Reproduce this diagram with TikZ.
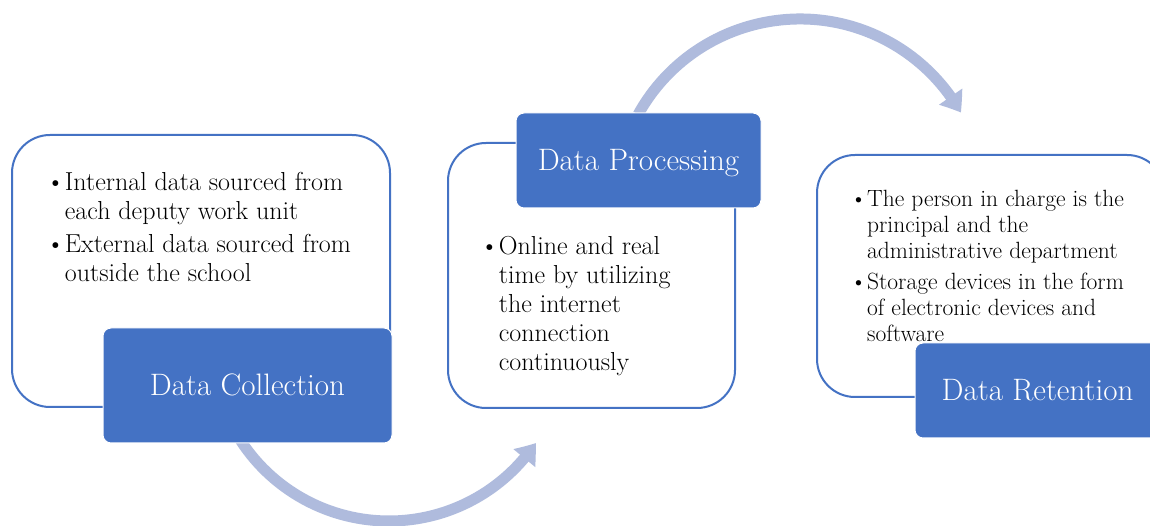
\documentclass[tikz,border=0pt]{standalone}
\usetikzlibrary{arrows.meta,bending}
\definecolor{dblue}{RGB}{68,114,196}
\definecolor{lblue}{RGB}{175,187,221}
\begin{document}
\begin{tikzpicture}[x=1pt,y=1pt,
  outbox/.style={draw=dblue, line width=2pt, fill=white, rounded corners=38pt, inner sep=0pt},
  titlebox/.style={draw=white, line width=1pt, fill=dblue, rounded corners=8pt, inner sep=0pt,
                   text=white, font=\fontsize{31}{36}\selectfont, text height=21pt, text depth=0pt},
  bodytext/.style={anchor=base west, inner sep=0pt, font=\fontsize{26}{29}\selectfont},
  smalltext/.style={anchor=base west, inner sep=0pt, font=\fontsize{23.5}{26}\selectfont},
  flow/.style={draw=lblue, line width=11pt, -{Triangle[width=27pt,length=19pt,bend]}}]
\useasboundingbox (0,0) rectangle (1150,526);
\clip (0,0) rectangle (1150,526);
\fill[white] (0,0) rectangle (1150,526);

% outline boxes
\node[outbox, minimum width=378pt, minimum height=272pt] (b1) at (201,255) {};
\node[outbox, minimum width=287pt, minimum height=265pt] (b2) at (591.5,250.5) {};
\node[outbox, minimum width=348pt, minimum height=242pt] (b3) at (991,250) {};

% curved arrows
\coordinate (c1) at (389,182);
\coordinate (c2) at (800,322);
\draw[flow] ([shift={(213:177)}]c1) arc[start angle=213, end angle=326, radius=177];
\draw[flow] ([shift={(151:185)}]c2) arc[start angle=151, end angle=29.6, radius=185];

% title boxes
\node[titlebox, minimum width=289pt, minimum height=115pt] (h1) at (247.5,140.5) {Data Collection};
\node[titlebox, minimum width=245pt, minimum height=95pt] (h2) at (638.5,365.5) {Data Processing};
\node[titlebox, minimum width=245pt, minimum height=95pt] (h3) at (1037.5,135.5) {Data Retention};

% texts
\node[bodytext] (t1) at (46,335) {\begin{tabular}[t]{@{}l@{\hspace{0pt}}l@{}}
\textbullet & Internal data sourced from\\
 & each deputy work unit\\[4pt]
\textbullet & External data sourced from\\
 & outside the school
\end{tabular}};
\node[bodytext] (t2) at (480,271) {\begin{tabular}[t]{@{}l@{\hspace{0pt}}l@{}}
\textbullet & Online and real\\
 & time by utilizing\\
 & the internet\\
 & connection\\
 & continuously
\end{tabular}};
\node[smalltext] (t3) at (850,319) {\begin{tabular}[t]{@{}l@{\hspace{0pt}}l@{}}
\textbullet & The person in charge is the\\
 & principal and the\\
 & administrative department\\[5pt]
\textbullet & Storage devices in the form\\
 & of electronic devices and\\
 & software
\end{tabular}};
\end{tikzpicture}
\end{document}
